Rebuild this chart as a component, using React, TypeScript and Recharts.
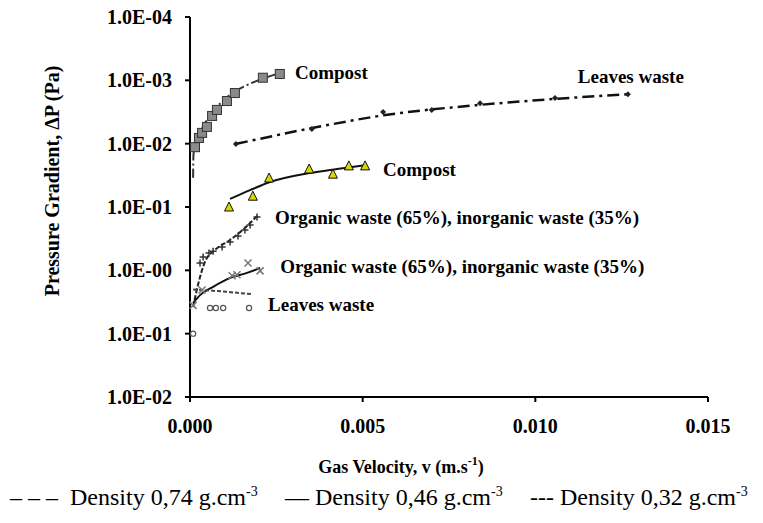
import React from 'react'
import {
  ComposedChart,
  Line,
  Scatter,
  XAxis,
  YAxis,
  ReferenceDot,
} from 'recharts'

// axis ticks (the source prints the positive exponents as "-")
const xTicks = [0, 0.005, 0.01, 0.015]
const yTicks = [0.01, 0.1, 1, 10, 100, 1000, 10000]
const yTickLabels = ['1.0E-02', '1.0E-01', '1.0E-00', '1.0E-01', '1.0E-02', '1.0E-03', '1.0E-04']

const compostTop = [
  { x: 0.000145, y: 88 },
  { x: 0.00026, y: 123 },
  { x: 0.00035, y: 148 },
  { x: 0.00049, y: 184 },
  { x: 0.00064, y: 274 },
  { x: 0.00078, y: 341 },
  { x: 0.00107, y: 471 },
  { x: 0.0013, y: 630 },
  { x: 0.00211, y: 1100 },
  { x: 0.0026, y: 1260 },
]
const leavesTop = [
  { x: 0.00133, y: 99 },
  { x: 0.00353, y: 171 },
  { x: 0.00559, y: 316 },
  { x: 0.007, y: 340 },
  { x: 0.0084, y: 436 },
  { x: 0.01057, y: 526 },
  { x: 0.01268, y: 605 },
]
const compostMid = [
  { x: 0.00113, y: 10 },
  { x: 0.00182, y: 14.8 },
  { x: 0.00229, y: 28.7 },
  { x: 0.00345, y: 39.8 },
  { x: 0.00414, y: 33 },
  { x: 0.0046, y: 44.6 },
  { x: 0.00507, y: 44.6 },
]
const organicUpper = [
  { x: 0.00029, y: 1.31 },
  { x: 0.00038, y: 1.62 },
  { x: 0.00055, y: 1.88 },
  { x: 0.00067, y: 2.0 },
  { x: 0.00093, y: 2.34 },
  { x: 0.00116, y: 2.8 },
  { x: 0.00139, y: 3.48 },
  { x: 0.00159, y: 4.33 },
  { x: 0.00174, y: 5.2 },
  { x: 0.00194, y: 6.95 },
]
const organicLower = [
  { x: 0.00009, y: 0.28 },
  { x: 0.00035, y: 0.49 },
  { x: 0.00122, y: 0.82 },
  { x: 0.00136, y: 0.85 },
  { x: 0.00168, y: 1.31 },
  { x: 0.00203, y: 0.98 },
]
const leavesLower = [
  { x: 0.00009, y: 0.1 },
  { x: 0.00058, y: 0.254 },
  { x: 0.00075, y: 0.254 },
  { x: 0.00096, y: 0.254 },
  { x: 0.00171, y: 0.254 },
]

// fitted curves
const compostTopFit = [
  { x: 0.00009, y: 29 },
  { x: 0.0001, y: 66 },
  { x: 0.000145, y: 88 },
  { x: 0.00029, y: 148 },
  { x: 0.00049, y: 237 },
  { x: 0.00078, y: 380 },
  { x: 0.00116, y: 590 },
  { x: 0.00159, y: 810 },
  { x: 0.00208, y: 1050 },
  { x: 0.00252, y: 1260 },
]
const leavesTopFit = [
  { x: 0.00133, y: 99 },
  { x: 0.0035, y: 175 },
  { x: 0.0056, y: 280 },
  { x: 0.0084, y: 410 },
  { x: 0.0106, y: 510 },
  { x: 0.0127, y: 605 },
]
const compostMidFit = [
  { x: 0.00116, y: 13.4 },
  { x: 0.00174, y: 18.5 },
  { x: 0.00232, y: 24.8 },
  { x: 0.00347, y: 34.4 },
  { x: 0.00426, y: 39.8 },
  { x: 0.00512, y: 46 },
]
const organicUpperFit = [
  { x: 0.00009, y: 0.264 },
  { x: 0.00023, y: 0.586 },
  { x: 0.00043, y: 1.35 },
  { x: 0.00072, y: 2.09 },
  { x: 0.00116, y: 3.01 },
  { x: 0.00159, y: 4.66 },
  { x: 0.00197, y: 7.48 },
]
const organicLowerFit = [
  { x: 0.00009, y: 0.305 },
  { x: 0.0003, y: 0.41 },
  { x: 0.00067, y: 0.55 },
  { x: 0.00116, y: 0.76 },
  { x: 0.00165, y: 0.91 },
  { x: 0.00203, y: 1.09 },
]
const leavesLowerFit = [
  { x: 0.00009, y: 0.5 },
  { x: 0.0008, y: 0.47 },
  { x: 0.0018, y: 0.42 },
]

// text labels inside the plot
const notes = [
  { x: 0.00304, y: 1350, text: 'Compost' },
  { x: 0.01123, y: 1130, text: 'Leaves waste' },
  { x: 0.00559, y: 38.4, text: 'Compost' },
  { x: 0.00246, y: 6.95, text: 'Organic waste (65%), inorganic waste (35%)' },
  { x: 0.00261, y: 1.13, text: 'Organic waste (65%), inorganic waste (35%)' },
  { x: 0.00226, y: 0.284, text: 'Leaves waste' },
]

const serif = 'Liberation Serif'

const Square = (p: any) => (
  <rect x={p.cx - 4.5} y={p.cy - 4.5} width={9} height={9} fill="#8a8a8a" stroke="#333" strokeWidth={1} />
)
const Diamond = (p: any) => (
  <path d={`M${p.cx - 3},${p.cy} L${p.cx},${p.cy - 3} L${p.cx + 3},${p.cy} L${p.cx},${p.cy + 3} Z`} fill="#222" />
)
const Triangle = (p: any) => (
  <path d={`M${p.cx},${p.cy - 5} L${p.cx + 4.5},${p.cy + 4} L${p.cx - 4.5},${p.cy + 4} Z`} fill="#d8d800" stroke="#111" strokeWidth={1} />
)
const Plus = (p: any) => (
  <path d={`M${p.cx - 3.5},${p.cy} H${p.cx + 3.5} M${p.cx},${p.cy - 3.5} V${p.cy + 3.5}`} stroke="#333" strokeWidth={1.5} />
)
const Cross = (p: any) => (
  <path d={`M${p.cx - 3.5},${p.cy - 3.5} L${p.cx + 3.5},${p.cy + 3.5} M${p.cx - 3.5},${p.cy + 3.5} L${p.cx + 3.5},${p.cy - 3.5}`} stroke="#777" strokeWidth={1.5} />
)
const Ring = (p: any) => <circle cx={p.cx} cy={p.cy} r={2.6} fill="#fff" stroke="#555" strokeWidth={1.2} />

export default function App() {
  return (
    <div style={{ position: 'absolute', left: 0, top: 0, width: 763, height: 523, background: '#fff', fontFamily: serif }}>
      <ComposedChart width={763} height={523} margin={{ top: 17, right: 55, bottom: 86, left: 0 }} style={{ fontFamily: serif }}>
        <XAxis
          type="number"
          dataKey="x"
          domain={[0, 0.015]}
          ticks={xTicks}
          tickFormatter={(v: number) => v.toFixed(3)}
          height={40}
          tickSize={5}
          tickMargin={17}
          axisLine={{ stroke: '#000', strokeWidth: 2 }}
          tickLine={{ stroke: '#000', strokeWidth: 2 }}
          tick={{ fill: '#000', fontSize: 20, fontWeight: 'bold', fontFamily: serif }}
          label={{
            content: () => (
              <text x={401} y={467} textAnchor="middle" dominantBaseline="central" fontFamily={serif} fontWeight="bold" fontSize={18} fill="#000">
                Gas Velocity, v (m.s<tspan dy={-6} fontSize={12}>-1</tspan><tspan dy={6}>)</tspan>
              </text>
            ),
          }}
        />
        <YAxis
          type="number"
          dataKey="y"
          scale="log"
          domain={[0.01, 10000]}
          ticks={yTicks}
          allowDataOverflow
          tickFormatter={(_v: number, i: number) => yTickLabels[i]}
          width={190}
          tickSize={5}
          tickMargin={13}
          axisLine={{ stroke: '#000', strokeWidth: 2 }}
          tickLine={{ stroke: '#000', strokeWidth: 2 }}
          tick={{ fill: '#000', fontSize: 20, fontWeight: 'bold', fontFamily: serif }}
          label={{
            content: () => (
              <text transform="translate(52,181) rotate(-90)" textAnchor="middle" dominantBaseline="central" fontFamily={serif} fontWeight="bold" fontSize={20} fill="#000">
                Pressure Gradient, ΔP (Pa)
              </text>
            ),
          }}
        />

        <Line data={compostTopFit} dataKey="y" type="monotone" stroke="#333" strokeWidth={2} strokeDasharray="9 3 2 3" dot={false} isAnimationActive={false} />
        <Line data={leavesTopFit} dataKey="y" type="monotone" stroke="#111" strokeWidth={2.5} strokeDasharray="12 5 3 5" dot={false} isAnimationActive={false} />
        <Line data={compostMidFit} dataKey="y" type="monotone" stroke="#111" strokeWidth={2} dot={false} isAnimationActive={false} />
        <Line data={organicUpperFit} dataKey="y" type="monotone" stroke="#222" strokeWidth={2} strokeDasharray="5 2" dot={false} isAnimationActive={false} />
        <Line data={organicLowerFit} dataKey="y" type="monotone" stroke="#111" strokeWidth={2} dot={false} isAnimationActive={false} />
        <Line data={leavesLowerFit} dataKey="y" type="monotone" stroke="#444" strokeWidth={2} strokeDasharray="4 2" dot={false} isAnimationActive={false} />

        <Scatter data={compostTop} shape={Square} isAnimationActive={false} />
        <Scatter data={leavesTop} shape={Diamond} isAnimationActive={false} />
        <Scatter data={compostMid} shape={Triangle} isAnimationActive={false} />
        <Scatter data={organicUpper} shape={Plus} isAnimationActive={false} />
        <Scatter data={organicLower} shape={Cross} isAnimationActive={false} />
        <Scatter data={leavesLower} shape={Ring} isAnimationActive={false} />

        {notes.map((n, i) => (
          <ReferenceDot
            key={i}
            x={n.x}
            y={n.y}
            r={0}
            fill="none"
            stroke="none"
            label={{
              content: (props: any) => (
                <text x={props.viewBox.x} y={props.viewBox.y} dominantBaseline="central" fontFamily={serif} fontWeight="bold" fontSize={19} fill="#000">
                  {n.text}
                </text>
              ),
            }}
          />
        ))}
      </ComposedChart>

      <div style={{ position: 'absolute', top: 484, left: 0, width: 763, fontFamily: serif, fontSize: 24, color: '#000', whiteSpace: 'nowrap' }}>
        <span style={{ position: 'absolute', left: 10 }}>– – –&nbsp; Density 0,74 g.cm<sup style={{ fontSize: 14 }}>-3</sup></span>
        <span style={{ position: 'absolute', left: 285 }}>— Density 0,46 g.cm<sup style={{ fontSize: 14 }}>-3</sup></span>
        <span style={{ position: 'absolute', left: 530 }}>--- Density 0,32 g.cm<sup style={{ fontSize: 14 }}>-3</sup></span>
      </div>
    </div>
  )
}
